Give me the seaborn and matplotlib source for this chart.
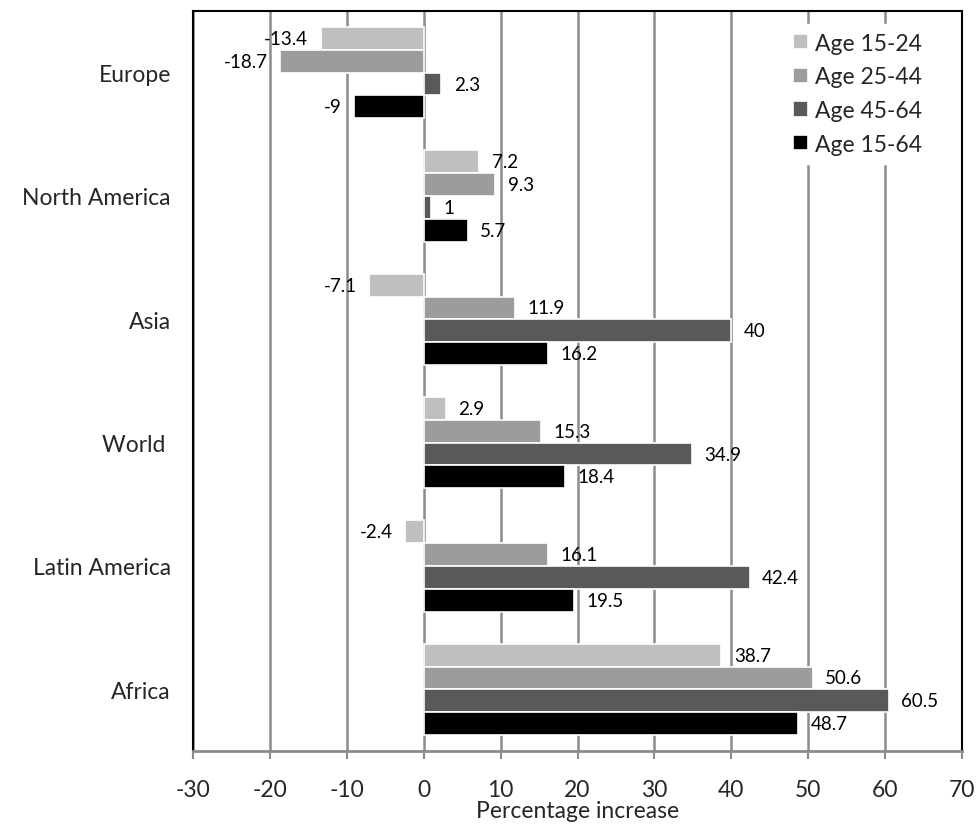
import matplotlib
matplotlib.use("Agg")
import matplotlib.pyplot as plt
import seaborn as sns
import pandas as pd

regions = ["Europe", "North America", "Asia", "World ", "Latin America", "Africa"]
series = ["Age 15-24", "Age 25-44", "Age 45-64", "Age 15-64"]
age_15_24 = [-13.4, 7.2, -7.1, 2.9, -2.4, 38.7]
age_25_44 = [-18.7, 9.3, 11.9, 15.3, 16.1, 50.6]
age_45_64 = [2.3, 1, 40, 34.9, 42.4, 60.5]
age_15_64 = [-9, 5.7, 16.2, 18.4, 19.5, 48.7]
colors = ["#bfbfbf", "#9c9c9c", "#595959", "#000000"]
xticks = list(range(-30, 71, 10))

rows = []
for s, vals in zip(series, [age_15_24, age_25_44, age_45_64, age_15_64]):
    for r, v in zip(regions, vals):
        rows.append({"Region": r, "Series": s, "Value": v})
df = pd.DataFrame(rows)

sns.set_theme(style="white")
plt.rcParams["font.family"] = ["Lato", "DejaVu Sans"]

fig = plt.figure(figsize=(9.77, 8.28), dpi=100)
ax = fig.add_axes([193/977, 1-752/828, (962-193)/977, (752-12)/828])

sns.barplot(data=df, y="Region", x="Value", hue="Series", order=regions,
            hue_order=series, palette=colors, orient="h", width=0.74,
            edgecolor="white", linewidth=1.2, ax=ax, zorder=3)

for cont in ax.containers:
    ax.bar_label(cont, labels=[f"{v:g}" for v in cont.datavalues],
                 padding=9, fontsize=13.5, color="black")

ax.set_xlim(-30, 70)
ax.set_xticks(xticks)
ax.set_xticklabels([str(t) for t in xticks], fontsize=16.5)
ax.tick_params(axis="x", which="both", direction="out", length=6, width=1.5,
               color="#8c8c8c", pad=14, bottom=True)
ax.tick_params(axis="y", length=0, labelsize=16.5, pad=16)
ax.set_ylabel("")
ax.set_xlabel("Percentage increase", fontsize=16.5, labelpad=0)
ax.xaxis.grid(True, color="#8c8c8c", linewidth=1.8, zorder=0)
ax.set_axisbelow(True)

for side in ["left", "top", "right"]:
    ax.spines[side].set_color("black")
    ax.spines[side].set_linewidth(1.5)
ax.spines["bottom"].set_color("#8c8c8c")
ax.spines["bottom"].set_linewidth(2)

leg = ax.legend(loc="upper right", bbox_to_anchor=(0.96, 0.983), frameon=True,
                fontsize=16.5, handlelength=0.65, handleheight=0.65,
                handletextpad=0.3, labelspacing=0.55, borderaxespad=0.0,
                facecolor="white", edgecolor="white", framealpha=1)
leg.set_zorder(5)

fig.savefig("out.png", dpi=100)
